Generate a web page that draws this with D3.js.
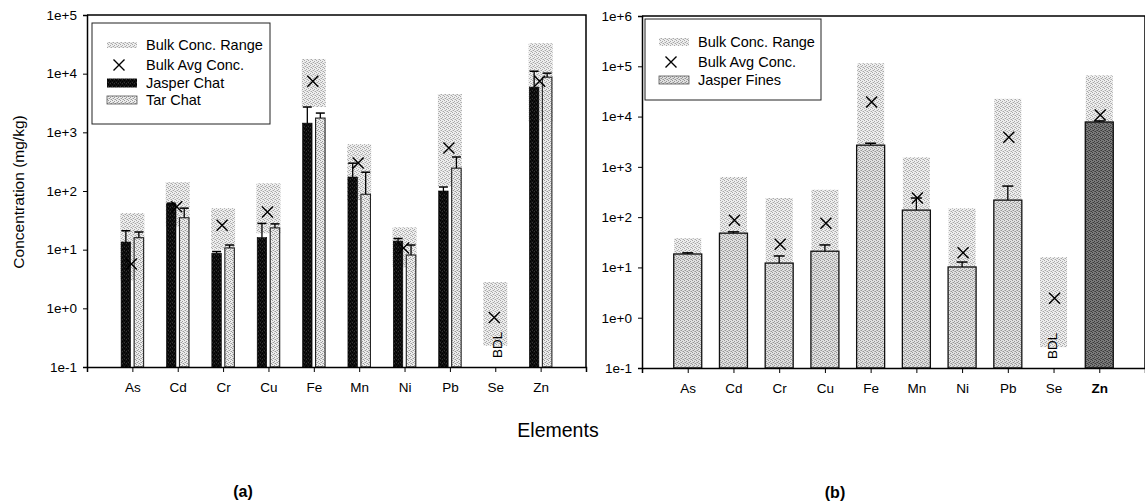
<!DOCTYPE html>
<html><head><meta charset="utf-8">
<script src="https://cdn.jsdelivr.net/npm/d3@7"></script>
<style>
body{margin:0;background:#fff;}
svg{display:block;font-family:"Liberation Sans",Arial,sans-serif;}
</style></head>
<body><svg id="c" width="1145" height="502"></svg>
<script>
const elements = ["As","Cd","Cr","Cu","Fe","Mn","Ni","Pb","Se","Zn"];
// panel (a)
const jasperChat    = [13.5, 60, 8.7, 16, 1435, 173, 14, 100, null, 5900];
const jasperChatErr = [21, 62, 9.3, 28, 2700, 298, 15.5, 117, null, 11000];
const tarChat       = [16, 35, 10.7, 23.5, 1750, 88, 8.1, 245, null, 8700];
const tarChatErr    = [20, 51, 12, 27.5, 2130, 209, 12, 380, null, 10200];
const bulkMinA      = [3, 25, 10, 19, 2700, 70, 5, 120, 0.23, 1500];
const bulkMaxA      = [42, 141, 51, 135, 17800, 630, 24, 4500, 2.8, 33000];
const bulkAvgA      = [5.7, 54, 26, 44, 7400, 300, 10.7, 540, 0.7, 7400];
const ticksA        = [1e-1, 1e0, 1e1, 1e2, 1e3, 1e4, 1e5];
// panel (b)
const jasperFines    = [18.5, 48, 12.2, 21, 2700, 138, 10.2, 218, null, 7800];
const jasperFinesErr = [19.5, 51, 16.9, 28, 2950, 240, 12.8, 415, null, 8200];
const bulkMinB       = [5, 20, 5, 10, 1000, 30, 5, 50, 0.26, 3000];
const bulkMaxB       = [38, 630, 240, 350, 115000, 1550, 150, 22500, 16, 66000];
const bulkAvgB       = [null, 87, 29, 76, 19500, 240, 19.6, 3900, 2.45, 10700];
const ticksB         = [1e-1, 1e0, 1e1, 1e2, 1e3, 1e4, 1e5, 1e6];

const svg = d3.select("#c");
const defs = svg.append("defs");
function stipple(id, base, dot, dot2){
  const p = defs.append("pattern").attr("id", id).attr("width", 4).attr("height", 4)
    .attr("patternUnits", "userSpaceOnUse");
  p.append("rect").attr("width", 4).attr("height", 4).attr("fill", base);
  [[0,0],[2,1],[1,2],[3,3]].forEach(([x,y]) => p.append("rect").attr("x", x).attr("y", y).attr("width", 1).attr("height", 1).attr("fill", dot));
  [[2,3],[0,2]].forEach(([x,y]) => p.append("rect").attr("x", x).attr("y", y).attr("width", 1).attr("height", 1).attr("fill", dot2));
}
stipple("pRange", "#eeeeee", "#a8a8a8", "#cfcfcf");
stipple("pTar", "#ececec", "#9a9a9a", "#c8c8c8");
stipple("pFines", "#e0e0e0", "#959595", "#bababa");
stipple("pZn", "#7a7a7a", "#3a3a3a", "#555");
stipple("pBlack", "#111", "#000", "#333");

const fmt = d => { const e = Math.round(Math.log10(d)); return "1e" + (e < 0 ? "-" : "+") + Math.abs(e); };

function xMark(g, x, y, s){
  g.append("path").attr("d", `M${x-s},${y-s}L${x+s},${y+s}M${x-s},${y+s}L${x+s},${y-s}`)
    .attr("stroke", "#000").attr("stroke-width", 1.4).attr("fill", "none");
}

function panel(opts){
  const {x0, x1, y0, y1, dom, ticks} = opts;
  const g = svg.append("g");
  const x = d3.scalePoint().domain(elements).range([x0, x1]).padding(1);
  const y = d3.scaleLog().domain(dom).range([y1, y0]);
  g.append("path").attr("d", `M${x0},${y0}L${x1},${y0}L${x1},${y1}`).attr("fill", "none")
    .attr("stroke", "#000").attr("stroke-width", 1.5);
  elements.forEach((e, i) => {
    g.append("rect").attr("x", x(e) - opts.rangeW/2).attr("width", opts.rangeW)
      .attr("y", y(opts.bmax[i])).attr("height", y(opts.bmin[i]) - y(opts.bmax[i]))
      .attr("fill", "url(#pRange)");
  });
  opts.series.forEach(s => {
    elements.forEach((e, i) => {
      const v = s.vals[i]; if (v == null) return;
      const cx = x(e) + s.off;
      g.append("rect").attr("x", cx - s.w/2).attr("width", s.w)
        .attr("y", y(v)).attr("height", y(dom[0]) - y(v))
        .attr("fill", s.fill(i)).attr("stroke", s.stroke).attr("stroke-width", s.sw);
      const ev = s.err[i];
      if (ev != null && ev > v){
        g.append("line").attr("x1", cx).attr("x2", cx).attr("y1", y(v)).attr("y2", y(ev))
          .attr("stroke", "#000").attr("stroke-width", 1.3);
        g.append("line").attr("x1", cx - s.cap/2).attr("x2", cx + s.cap/2).attr("y1", y(ev)).attr("y2", y(ev))
          .attr("stroke", "#000").attr("stroke-width", 1.5);
      }
    });
  });
  elements.forEach((e, i) => {
    if (opts.bavg[i] != null) xMark(g, x(e) + opts.xOff, y(opts.bavg[i]), 5.5);
  });
  g.append("text").attr("transform", `translate(${x("Se") + opts.bdlOff},${y1 - 9}) rotate(-90)`)
    .attr("font-size", 13.5).attr("dy", "0.35em").text("BDL");
  const ya = g.append("g").attr("transform", `translate(${x0},0)`)
    .call(d3.axisLeft(y).tickValues(ticks).tickFormat(fmt).tickSize(4).tickPadding(6));
  const xa = g.append("g").attr("transform", `translate(0,${y1})`)
    .call(d3.axisBottom(x).tickSize(5).tickPadding(10));
  [ya, xa].forEach(a => {
    a.select(".domain").attr("stroke-width", 1.5);
    a.selectAll("text").attr("font-size", 13.5).attr("font-family", "'Liberation Sans',Arial,sans-serif").attr("fill", "#000");
  });
  if (opts.boldLast) xa.selectAll(".tick text").filter(d => d === "Zn").attr("font-weight", "bold");
  return {g, x, y};
}

panel({x0: 87, x1: 586, y0: 15, y1: 367, dom: [0.1, 1e5], ticks: ticksA,
  bmin: bulkMinA, bmax: bulkMaxA, bavg: bulkAvgA, rangeW: 24, xOff: -1, bdlOff: 2,
  series: [
    {vals: jasperChat, err: jasperChatErr, off: -6.5, w: 9.5, fill: () => "url(#pBlack)", stroke: "#000", sw: 0.6, cap: 9},
    {vals: tarChat, err: tarChatErr, off: 6.5, w: 9.5, fill: () => "url(#pTar)", stroke: "#222", sw: 1.1, cap: 9}
  ]});

panel({x0: 642, x1: 1145, y0: 16, y1: 368, dom: [0.1, 1e6], ticks: ticksB,
  bmin: bulkMinB, bmax: bulkMaxB, bavg: bulkAvgB, rangeW: 27, xOff: 1, bdlOff: -1, boldLast: true,
  series: [
    {vals: jasperFines, err: jasperFinesErr, off: 0, w: 28, fill: i => elements[i] === "Zn" ? "url(#pZn)" : "url(#pFines)", stroke: "#111", sw: 1.3, cap: 11}
  ]});

function legend(bx, by, bw, bh, items){
  const g = svg.append("g");
  g.append("rect").attr("x", bx).attr("y", by).attr("width", bw).attr("height", bh)
    .attr("fill", "#fff").attr("stroke", "#222").attr("stroke-width", 1);
  items.forEach(it => {
    if (it.type === "x") xMark(g, it.sx + 12, it.y, 5.5);
    else g.append("rect").attr("x", it.sx).attr("y", it.y - it.h/2).attr("width", 30).attr("height", it.h)
      .attr("fill", it.fill).attr("stroke", it.stroke || "none").attr("stroke-width", 0.8);
    g.append("text").attr("x", it.tx).attr("y", it.y).attr("dy", "0.35em").attr("font-size", 14.5).text(it.label);
  });
}
legend(92, 23, 178, 101, [
  {label: "Bulk Conc. Range", y: 45, sx: 107, tx: 146, h: 6, fill: "url(#pRange)"},
  {label: "Bulk Avg Conc.", y: 65, sx: 107, tx: 146, type: "x"},
  {label: "Jasper Chat", y: 83, sx: 107, tx: 146, h: 9, fill: "url(#pBlack)"},
  {label: "Tar Chat", y: 100, sx: 107, tx: 146, h: 8, fill: "url(#pTar)", stroke: "#555"}
]);
legend(645, 19, 176, 81, [
  {label: "Bulk Conc. Range", y: 42, sx: 659, tx: 698, h: 8, fill: "url(#pRange)"},
  {label: "Bulk Avg Conc.", y: 62, sx: 659, tx: 698, type: "x"},
  {label: "Jasper Fines", y: 80, sx: 659, tx: 698, h: 8, fill: "url(#pFines)", stroke: "#555"}
]);

svg.append("text").attr("transform", "translate(19,192) rotate(-90)").attr("text-anchor", "middle")
  .attr("dy", "0.35em").attr("font-size", 15.5).text("Concentration (mg/kg)");
svg.append("text").attr("x", 558).attr("y", 430).attr("text-anchor", "middle").attr("dy", "0.35em")
  .attr("font-size", 19.5).text("Elements");
svg.append("text").attr("x", 243).attr("y", 491).attr("text-anchor", "middle").attr("dy", "0.35em")
  .attr("font-size", 16).attr("font-weight", "bold").text("(a)");
svg.append("text").attr("x", 835).attr("y", 492).attr("text-anchor", "middle").attr("dy", "0.35em")
  .attr("font-size", 16).attr("font-weight", "bold").text("(b)");
</script></body></html>
